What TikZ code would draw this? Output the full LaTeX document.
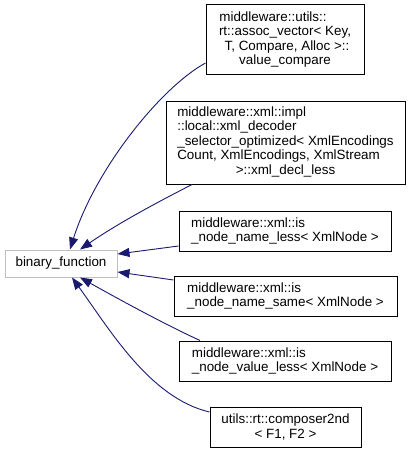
\documentclass[tikz,border=0pt]{standalone}
\usepackage{fontspec}
\setmainfont{Liberation Sans}
\usetikzlibrary{arrows.meta}
\definecolor{edgeblue}{RGB}{25,25,112}
\definecolor{boxgray}{RGB}{191,191,191}
\begin{document}
\begin{tikzpicture}[x=1pt,y=-1pt,
  cls/.style={draw=black,line width=1pt,fill=white,inner sep=0pt,
    font=\fontsize{13.4}{14.5}\selectfont},
  basecls/.style={cls,draw=boxgray},
  inh/.style={draw=edgeblue,line width=0.9pt,
    -{Triangle[length=12pt,width=9pt]}}]
\useasboundingbox (0,0) rectangle (411,452);
\node[cls,align=center,minimum width=158pt,minimum height=69pt] (a1) at (285,39.5)
  {middleware::utils::\hspace*{24pt}\\rt::assoc\_vector< Key,\\\hspace*{4pt}T, Compare, Alloc >::\\value\_compare};
\node[cls,minimum width=239pt,minimum height=83pt] (a2) at (285.5,142.5)
  {\begin{tabular}{@{}l@{}}middleware::xml::impl\\::local::xml\_decoder\\\_selector\_optimized< XmlEncodings\\Count, XmlEncodings, XmlStream\\\multicolumn{1}{@{}c@{}}{>::xml\_decl\_less}\end{tabular}};
\node[cls,align=left,minimum width=212pt,minimum height=40pt] (a3) at (285,231)
  {middleware::xml::is\\\_node\_name\_less< XmlNode >};
\node[basecls,minimum width=112pt,minimum height=27pt] (bf) at (61,263.5) {binary\_function};
\node[cls,align=left,minimum width=223pt,minimum height=40pt] (a4) at (285.5,296)
  {middleware::xml::is\\\_node\_name\_same< XmlNode >};
\node[cls,align=left,minimum width=212pt,minimum height=40pt] (a5) at (285,361)
  {middleware::xml::is\\\_node\_value\_less< XmlNode >};
\node[cls,align=center,minimum width=151pt,minimum height=40pt] (a6) at (285.5,427)
  {utils::rt::composer2nd\\< F1, F2 >};
\draw[inh] ([yshift=-23.5pt]a1.west) .. controls (160,88) and (95,170) .. ([xshift=9pt]bf.north);
\draw[inh] ([xshift=-93.5pt]a2.south) .. controls (160,201) and (120,222) .. ([xshift=19pt]bf.north);
\draw[inh] ([yshift=-15pt]a3.west) -- ([yshift=9.5pt]bf.east);
\draw[inh] ([yshift=16pt]a4.west) -- ([yshift=-8.5pt]bf.east);
\draw[inh] ([xshift=-85pt]a5.north) .. controls (160,322) and (115,297) .. ([xshift=19pt]bf.south);
\draw[inh] ([yshift=15pt]a6.west) .. controls (150,398) and (110,330) .. ([xshift=11pt]bf.south);
\end{tikzpicture}
\end{document}
